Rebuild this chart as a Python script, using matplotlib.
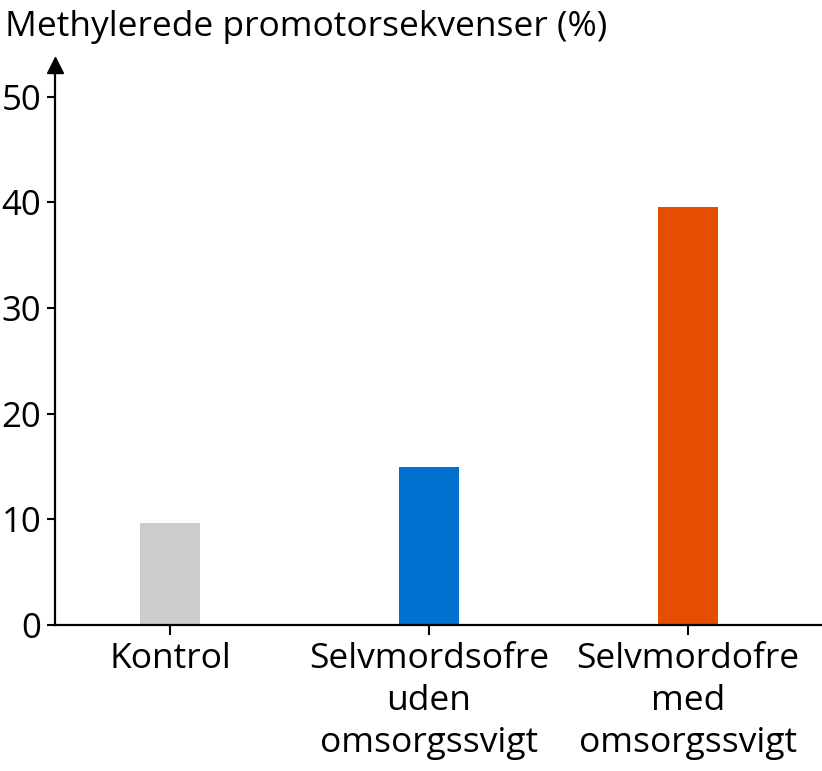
import matplotlib
matplotlib.use("Agg")
import matplotlib.pyplot as plt

categories = ["Kontrol", "Selvmordsofre\nuden\nomsorgssvigt", "Selvmordofre\nmed\nomsorgssvigt"]
values = [9.7, 15.0, 39.6]
colors = ["#cccccc", "#0071ce", "#e54e00"]
yticks = [0, 10, 20, 30, 40, 50]
ylabel = "Methylerede promotorsekvenser (%)"

plt.rcParams['font.family'] = ['Open Sans', 'DejaVu Sans']

W, H = 822, 771
fig = plt.figure(figsize=(W / 100, H / 100), dpi=100)
left, right, bottom, top = 55, 821, 625, 65
ax = fig.add_axes([left / W, 1 - bottom / H, (right - left) / W, (bottom - top) / H])

x = list(range(len(categories)))
ax.bar(x, values, width=0.232, color=colors)
ax.set_xlim(-0.444, 2.514)
ax.set_ylim(0, 53.0)
ax.set_yticks(yticks)
ax.set_xticks(x)
ax.set_xticklabels(categories, fontsize=25.5, linespacing=1.32)
ax.tick_params(axis='y', labelsize=25, length=6, width=1.5, pad=4)
ax.tick_params(axis='x', length=7, width=1.5, pad=5)
for s in ['top', 'right']:
    ax.spines[s].set_visible(False)
for s in ['left', 'bottom']:
    ax.spines[s].set_linewidth(1.6)
ax.plot([0], [1], marker='^', color='black', markersize=11,
        transform=ax.transAxes, clip_on=False)
fig.text(5 / W, 1 - 36 / H, ylabel, fontsize=25.5, ha='left', va='baseline')

fig.savefig("out.png", dpi=100)
